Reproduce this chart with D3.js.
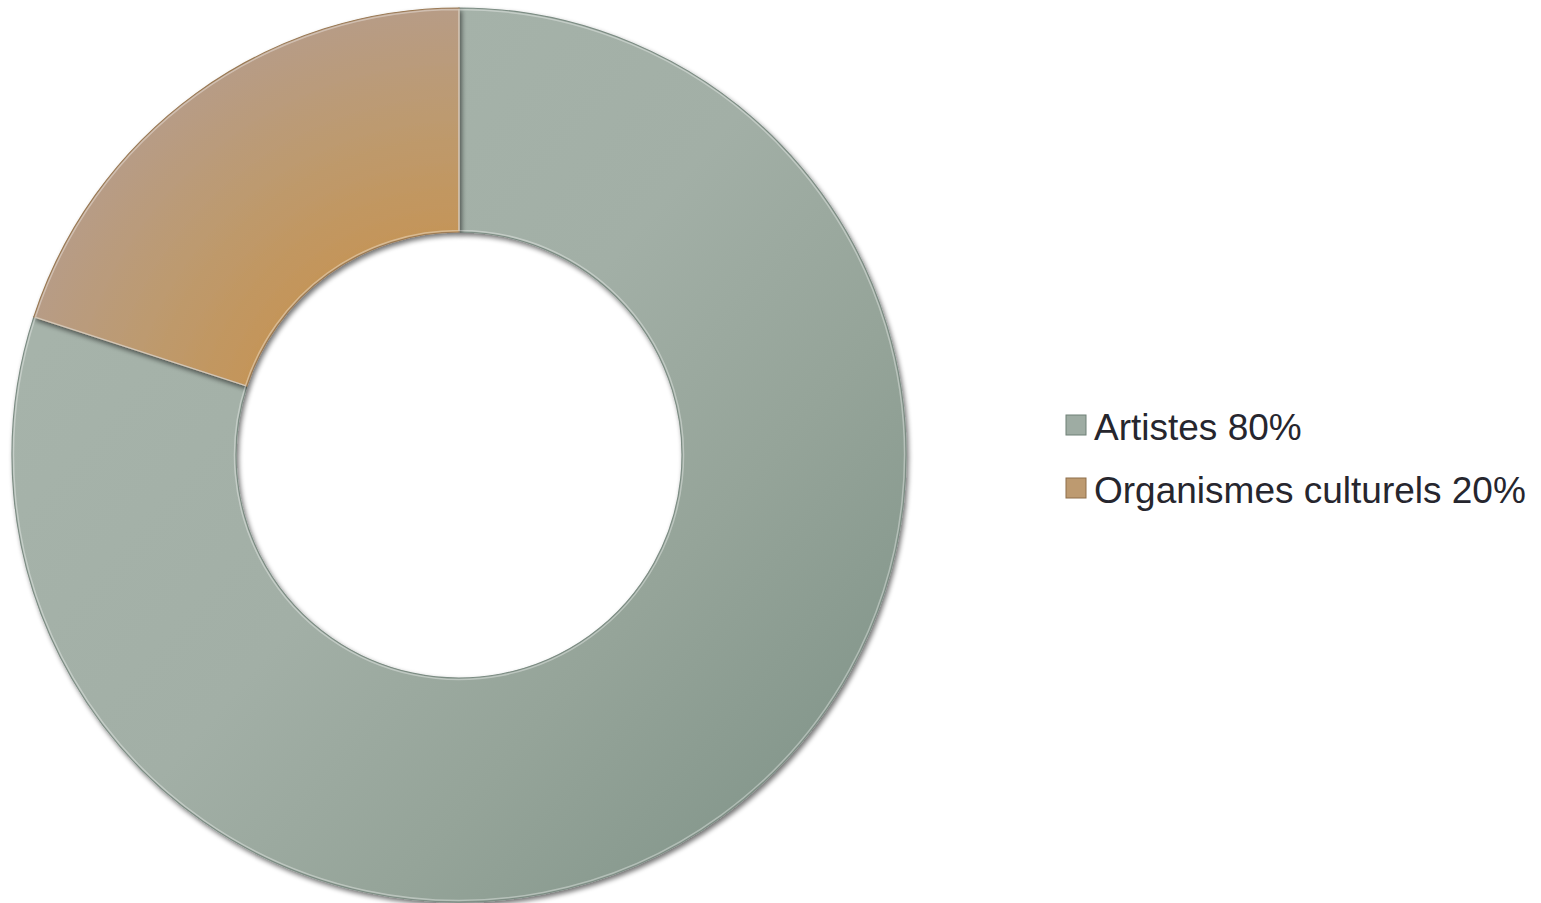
<!DOCTYPE html>
<html><head><meta charset="utf-8">
<script src="https://cdn.jsdelivr.net/npm/d3@7"></script>
<style>html,body{margin:0;padding:0;background:#fff;}</style>
</head><body>
<script>
const categories = ["Artistes 80%", "Organismes culturels 20%"];
const values = [80, 20];
const colors = ["#9eaca3", "#bd9a70"];

const W = 1541, H = 903;
const svg = d3.select("body").append("svg").attr("width", W).attr("height", H);
const defs = svg.append("defs");

const cx = 459, cy = 455, rOuter = 447, rInner = 223;

const g0 = defs.append("linearGradient").attr("id", "grad0")
  .attr("gradientUnits", "userSpaceOnUse")
  .attr("x1", cx - 300).attr("y1", cy - 250).attr("x2", cx + 330).attr("y2", cy + 300);
g0.append("stop").attr("offset", 0).attr("stop-color", "#a6b3aa");
g0.append("stop").attr("offset", 0.45).attr("stop-color", "#a2afa6");
g0.append("stop").attr("offset", 0.75).attr("stop-color", "#95a499");
g0.append("stop").attr("offset", 1).attr("stop-color", "#87998e");

const g1 = defs.append("radialGradient").attr("id", "grad1")
  .attr("gradientUnits", "userSpaceOnUse")
  .attr("cx", cx).attr("cy", cy).attr("r", rOuter);
g1.append("stop").attr("offset", 0.5).attr("stop-color", "#c49559");
g1.append("stop").attr("offset", 0.75).attr("stop-color", "#bd9a6f");
g1.append("stop").attr("offset", 1).attr("stop-color", "#b79c86");

const f = defs.append("filter").attr("id", "shadow").attr("x", "-10%").attr("y", "-10%").attr("width", "120%").attr("height", "120%");
f.append("feGaussianBlur").attr("in", "SourceAlpha").attr("stdDeviation", 2.5).attr("result", "b");
f.append("feOffset").attr("in", "b").attr("dx", 2).attr("dy", 3).attr("result", "o");
f.append("feComponentTransfer").attr("in", "o").attr("result", "o2")
  .append("feFuncA").attr("type", "linear").attr("slope", 0.55);
const m = f.append("feMerge");
m.append("feMergeNode").attr("in", "o2");
m.append("feMergeNode").attr("in", "SourceGraphic");

const pie = d3.pie().sort(null).value(d => d).startAngle(0).endAngle(2 * Math.PI);
const arcs = pie(values);
const arc = d3.arc().innerRadius(rInner).outerRadius(rOuter);

// gradients defined in page coords; draw paths in page coords via translated path data
const root = svg.append("g");
root.selectAll("path.slice").data(arcs).enter().append("path")
  .attr("class", "slice")
  .attr("d", arc)
  .attr("transform", `translate(${cx},${cy})`)
  .attr("fill", (d, i) => `url(#grad${i})`)
  .attr("stroke", (d, i) => i === 0 ? "#7d8d84" : "#9a7a55")
  .attr("stroke-width", 1.2)
  .attr("filter", "url(#shadow)");

// fix gradient coordinate frame: gradients are userSpaceOnUse in the path's local (translated) space
g0.attr("x1", -300).attr("y1", -250).attr("x2", 330).attr("y2", 300);
g1.attr("cx", 0).attr("cy", 0);

root.selectAll("path.hl").data(arcs).enter().append("path")
  .attr("class", "hl")
  .attr("d", d3.arc().innerRadius(rInner + 1.5).outerRadius(rOuter - 1.5))
  .attr("transform", `translate(${cx},${cy})`)
  .attr("fill", "none")
  .attr("stroke", "rgba(255,255,255,0.35)")
  .attr("stroke-width", 1.5);

const leg = svg.append("g").attr("transform", "translate(1066,415)");
const rows = leg.selectAll("g").data(categories).enter().append("g")
  .attr("transform", (d, i) => `translate(0,${i * 63})`);
rows.append("rect").attr("width", 20).attr("height", 20)
  .attr("fill", (d, i) => colors[i])
  .attr("stroke", (d, i) => i === 0 ? "#6f8077" : "#8e6e4a").attr("stroke-width", 1);
rows.append("text").attr("x", 28).attr("y", 25)
  .attr("font-family", "'Liberation Sans', Arial, sans-serif")
  .attr("font-size", 37).attr("fill", "#26262e")
  .text(d => d);
</script>
</body></html>
